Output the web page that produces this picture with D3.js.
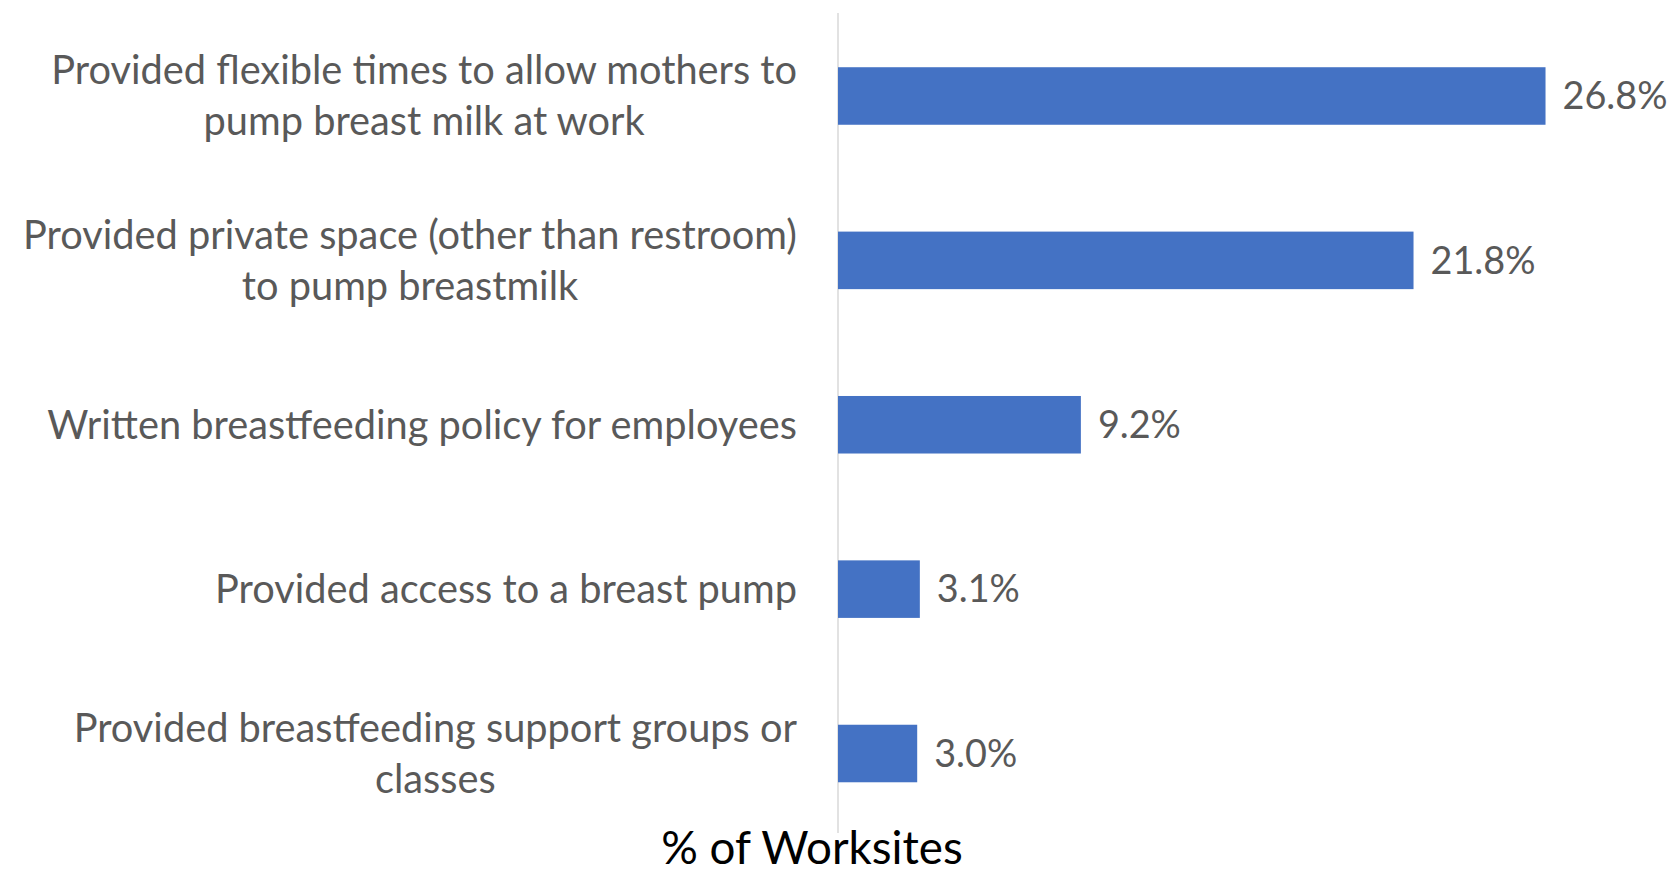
<!DOCTYPE html>
<html>
<head>
<meta charset="utf-8">
<script src="https://cdn.jsdelivr.net/npm/d3@7"></script>
<style>
  html, body { margin: 0; padding: 0; background: #ffffff; }
  svg { display: block; }
</style>
</head>
<body>
<svg id="chart" width="1671" height="876"></svg>
<script>
// ---- data ----
const categories = [
  "Provided flexible times to allow mothers to\npump breast milk at work",
  "Provided private space (other than restroom)\nto pump breastmilk",
  "Written breastfeeding policy for employees",
  "Provided access to a breast pump",
  "Provided breastfeeding support groups or\nclasses"
];
const values = [26.8, 21.8, 9.2, 3.1, 3.0];
const axisTitle = "% of Worksites";

// ---- layout ----
const FONT = "Lato, 'Open Sans', 'Noto Sans', sans-serif";
const svg = d3.select("#chart");

const x = d3.scaleLinear().domain([0, 30]).range([838, 838 + 30 * 26.4]);
const y = d3.scaleBand().domain(categories).range([13.8, 835.7])
  .paddingInner(0.65).paddingOuter(0.325);

// axis line (category axis)
svg.append("line")
  .attr("x1", x(0)).attr("x2", x(0))
  .attr("y1", 13).attr("y2", 833)
  .attr("stroke", "#d9d9d9").attr("stroke-width", 1.5);

// bars
svg.append("g").selectAll("rect")
  .data(values)
  .join("rect")
  .attr("x", x(0))
  .attr("y", (d, i) => y(categories[i]))
  .attr("width", d => x(d) - x(0))
  .attr("height", y.bandwidth())
  .attr("fill", "#4472C4");

// fit font size to the reference width of the longest label line
const probe = svg.append("text").attr("font-family", FONT).attr("font-size", 40)
  .text("Provided flexible times to allow mothers to");
const probeW = probe.node().getComputedTextLength();
probe.remove();
const labelSize = 40 * 746 / probeW;

// value labels
const fmt = d3.format(".1f");
svg.append("g").selectAll("text")
  .data(values)
  .join("text")
  .attr("x", d => x(d) + 17)
  .attr("y", (d, i) => y(categories[i]) + y.bandwidth() / 2)
  .attr("dy", "0.35em")
  .attr("font-family", FONT)
  .attr("font-size", labelSize * 0.95)
  .attr("fill", "#595959")
  .text(d => fmt(d) + "%");

// category labels: block right-aligned at 797, lines centered within block
const labelRight = 797;
const lineH = 51;
const gLab = svg.append("g");
categories.forEach(cat => {
  const lines = cat.split("\n");
  const cy = y(cat) + y.bandwidth() / 2;
  const t = gLab.append("text")
    .attr("font-family", FONT)
    .attr("font-size", labelSize)
    .attr("fill", "#595959")
    .attr("text-anchor", "middle");
  const spans = lines.map((ln, k) => t.append("tspan")
    .attr("y", cy + (k - (lines.length - 1) / 2) * lineH)
    .attr("dy", "0.35em")
    .text(ln));
  const maxW = d3.max(spans, s => s.node().getComputedTextLength());
  spans.forEach(s => s.attr("x", labelRight - maxW / 2));
});

// axis title
svg.append("text")
  .attr("x", 812)
  .attr("y", 864)
  .attr("text-anchor", "middle")
  .attr("font-family", FONT)
  .attr("font-size", labelSize * 1.15)
  .attr("fill", "#000000")
  .text(axisTitle);
</script>
</body>
</html>
